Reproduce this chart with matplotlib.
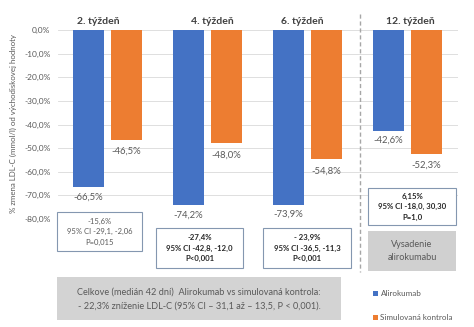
import numpy as np
import matplotlib
matplotlib.use("Agg")
import matplotlib.pyplot as plt
from matplotlib.patches import Rectangle

# ------------------------------------------------------------------
# Data
# ------------------------------------------------------------------
weeks = ["2. týždeň", "4. týždeň", "6. týždeň", "12. týždeň"]
alirokumab = [-66.5, -74.2, -73.9, -42.6]
kontrola = [-46.5, -48.0, -54.8, -52.3]
yticks = [0, -10, -20, -30, -40, -50, -60, -70, -80]

diff_lines = [
    ["-15,6%", "95% CI -29,1, -2,06", "P=0,015"],
    ["-27,4%", "95% CI -42,8, -12,0", "P<0,001"],
    ["- 23,9%", "95% CI -36,5, -11,3", "P<0,001"],
    ["6,15%", "95% CI -18,0, 30,30", "P=1,0"],
]
summary_lines = [
    "Celkove (medián 42 dní)  Alirokumab vs simulovaná kontrola:",
    "- 22,3% zníženie LDL-C (95% CI – 31,1 až – 13,5, P < 0,001).",
]
stop_label = "Vysadenie\nalirokumabu"
legend_labels = ["Alirokumab", "Simulovaná kontrola"]
ylabel = "% zmena LDL-C (mmol/l) od východiskovej hodnoty"

BLUE = "#4472C4"
ORANGE = "#ED7D31"
TXT = "#595959"
EDGE = "#8497B0"

W, H = 474, 327
plt.rcParams["font.family"] = ["Lato", "DejaVu Sans"]


def fx(x):
    return x / W


def fy(y):
    return 1 - y / H


def pct(v):
    return f"{v:.1f}".replace(".", ",") + "%"


def box(x0, y0, x1, y1, **kw):
    fig.add_artist(Rectangle((fx(x0), fy(y1)), fx(x1) - fx(x0), fy(y0) - fy(y1),
                             transform=fig.transFigure, **kw))


fig = plt.figure(figsize=(W / 100, H / 100), dpi=100)
fig.patch.set_facecolor("white")
ax = fig.add_axes([fx(57.5), fy(219), 400 / W, 189 / H])

x = np.arange(len(weeks))
bw = 0.31
off = 0.19
ax.bar(x - off, alirokumab, bw, color=BLUE, zorder=3)
ax.bar(x + off, kontrola, bw, color=ORANGE, zorder=3)

for xi, a, k in zip(x, alirokumab, kontrola):
    ax.annotate(pct(a), (xi - off, a), xytext=(0, -7), textcoords="offset points",
                ha="center", va="center", fontsize=6.8, color=TXT)
    ax.annotate(pct(k), (xi + off, k), xytext=(0, -8.5), textcoords="offset points",
                ha="center", va="center", fontsize=6.8, color=TXT)

ax.set_xlim(-0.5, 3.5)
ax.set_ylim(-80, 0)
ax.set_yticks(yticks)
ax.set_yticklabels([pct(v) for v in yticks])
ax.set_xticks([])
ax.tick_params(axis="y", length=0, pad=5, labelsize=6.0, labelcolor=TXT)
for s in ax.spines.values():
    s.set_visible(False)
ax.grid(axis="y", color="#D9D9D9", linewidth=0.6, zorder=0)

fig.text(fx(13), fy(124), ylabel, rotation=90, ha="center", va="center",
         fontsize=5.7, color=TXT)

# week titles
title_pos = [(98, 21), (212, 21), (302, 21), (410, 21)]
for (tx, ty), w in zip(title_pos, weeks):
    fig.text(fx(tx), fy(ty), w, ha="center", va="center", fontsize=7.5,
             fontweight="bold", color="#404040")

# dashed divider
fig.add_artist(plt.Line2D([fx(360), fx(360)], [fy(14), fy(272)], color="#A6A6A6",
                          linestyle=(0, (3, 2)), linewidth=1.0))

# difference boxes
boxes = [(57, 212, 142, 251), (156, 228, 243, 268), (263, 228, 351, 268),
         (368, 188, 456, 225)]
for i, ((x0, y0, x1, y1), lines) in enumerate(zip(boxes, diff_lines)):
    box(x0, y0, x1, y1, facecolor="white", edgecolor=EDGE, linewidth=0.8)
    cx = (x0 + x1) / 2
    cy = (y0 + y1) / 2
    for j, line in enumerate(lines):
        fig.text(fx(cx), fy(cy + (j - 1) * 10.5), line, ha="center", va="center",
                 fontsize=5.6 if i else 5.5, color="#262626" if i else TXT,
                 fontweight="bold" if i else "normal")

# withdrawal box
x0, y0, x1, y1 = 368, 231, 456, 271
box(x0, y0, x1, y1, facecolor="#D0D0D0", edgecolor="none")
fig.text(fx((x0 + x1) / 2), fy((y0 + y1) / 2), stop_label, ha="center", va="center",
         fontsize=6.6, color=TXT, linespacing=1.45)

# summary box
x0, y0, x1, y1 = 57, 277, 341, 320
box(x0, y0, x1, y1, facecolor="#D3D3D3", edgecolor="none")
for j, line in enumerate(summary_lines):
    fig.text(fx(199), fy(292 + j * 14), line, ha="center", va="center",
             fontsize=6.6, color=TXT)

# legend
for ly, lab, col in zip([293, 317], legend_labels, [BLUE, ORANGE]):
    box(373, ly - 2.5, 378, ly + 2.5, facecolor=col, edgecolor="none")
    fig.text(fx(380.5), fy(ly), lab, ha="left", va="center", fontsize=5.8, color=TXT)

fig.savefig("out.png", dpi=100)
